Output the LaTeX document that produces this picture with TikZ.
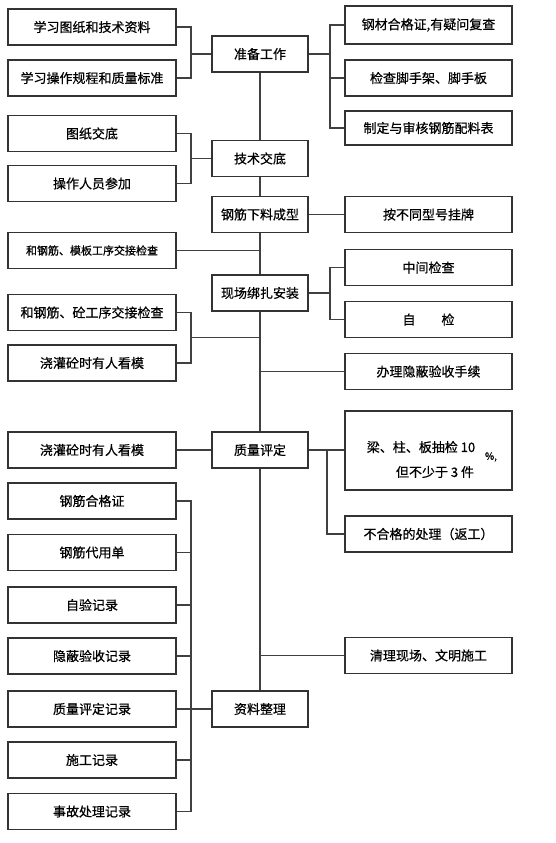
\documentclass[tikz,border=0pt]{standalone}
\usepackage{fontspec}
\setmainfont{Noto Sans CJK SC}[FakeBold=0.6]
\usetikzlibrary{calc}
\begin{document}
\begin{tikzpicture}[x=1pt,y=-1pt,
  box/.style={draw=black!80, line width=1.2pt, inner sep=0pt, minimum height=36pt, font=\fontsize{13}{15}\selectfont},
  lbox/.style={box, minimum width=168pt},
  cbox/.style={box, minimum width=96pt},
  rbox/.style={box, minimum width=167pt},
  conn/.style={draw=black!75, line width=1.2pt},
  plain/.style={inner sep=0pt, font=\fontsize{13}{15}\selectfont}
]
\useasboundingbox (0,0) rectangle (555,843);
% left column
\node[lbox] (L1) at (92,27) {学习图纸和技术资料};
\node[lbox] (L2) at (92,78) {学习操作规程和质量标准};
\node[lbox] (L3) at (92,133.5) {图纸交底};
\node[lbox] (L4) at (92,183.5) {操作人员参加};
\node[lbox, font=\fontsize{11}{13}\selectfont] (L5) at (92,250.5) {和钢筋、模板工序交接检查};
\node[lbox] (L6) at (92,312.5) {和钢筋、砼工序交接检查};
\node[lbox] (L7) at (92,363) {浇灌砼时有人看模};
\node[lbox] (L8) at (92,450) {浇灌砼时有人看模};
\node[lbox] (L9) at (92,501) {钢筋合格证};
\node[lbox] (L10) at (92,552.5) {钢筋代用单};
\node[lbox] (L11) at (92,605) {自验记录};
\node[lbox] (L12) at (92,656) {隐蔽验收记录};
\node[lbox] (L13) at (92,709) {质量评定记录};
\node[lbox] (L14) at (92,760) {施工记录};
\node[lbox] (L15) at (92,811.5) {事故处理记录};
% center column
\node[cbox] (C1) at (260,54) {准备工作};
\node[cbox] (C2) at (260,158.5) {技术交底};
\node[cbox] (C3) at (260,214.5) {钢筋下料成型};
\node[cbox] (C4) at (260,293) {现场绑扎安装};
\node[cbox] (C5) at (260,450) {质量评定};
\node[cbox] (C6) at (260,709) {资料整理};
% right column
\node[rbox, minimum height=38pt] (R1) at (428.5,25) {钢材合格证,有疑问复查};
\node[rbox] (R2) at (428.5,78) {检查脚手架、脚手板};
\node[rbox, minimum height=34pt] (R3) at (428.5,128) {制定与审核钢筋配料表};
\node[rbox] (R4) at (428.5,214.5) {按不同型号挂牌};
\node[rbox] (R5) at (428.5,267.5) {中间检查};
\node[rbox] (R6) at (428.5,319.5) {自\hspace{2em}检};
\node[rbox] (R7) at (428.5,371.5) {办理隐蔽验收手续};
\node[rbox, minimum height=79pt] (R8) at (428.5,450.5) {};
\node[plain] (R8a) at (421,447) {梁、柱、板抽检 10};
\node[plain] (R8b) at (435,472) {但不少于 3 件};
\node[plain, font=\fontsize{10}{12}\selectfont] (R8c) at (491,457) {\%,};
\node[rbox] (R9) at (428.5,534) {不合格的处理（返工）};
\node[rbox] (R10) at (428.5,655.5) {清理现场、文明施工};
% bracket x positions
\coordinate (bx) at (191,0);
\coordinate (rx) at (330,0);
\coordinate (qx) at (327,0);
% spine
\draw[conn] (C1.south) -- (C2.north);
\draw[conn] (C2.south) -- (C3.north);
\draw[conn] (C3.south) -- (C4.north);
\draw[conn] (C4.south) -- (C5.north);
\draw[conn] (C5.south) -- (C6.north);
% 准备工作
\draw[conn] (L1.east) -- (L1.east -| bx) -- (L2.east -| bx) -- (L2.east);
\draw[conn] (C1.west) -- (C1.west -| bx);
\draw[conn] (R1.west) -- (R1.west -| rx) -- (R3.west -| rx) -- (R3.west);
\draw[conn] (R2.west) -- (R2.west -| rx);
\draw[conn] (C1.east) -- (C1.east -| rx);
% 技术交底
\draw[conn] (L3.east) -- (L3.east -| bx) -- (L4.east -| bx) -- (L4.east);
\draw[conn] (C2.west) -- (C2.west -| bx);
% 钢筋下料成型
\draw[conn] (C3.east) -- (R4.west);
\draw[conn] (L5.east) -- (L5.east -| C3.south);
% 现场绑扎安装
\draw[conn] (R5.west) -- (R5.west -| rx) -- (R6.west -| rx) -- (R6.west);
\draw[conn] (C4.east) -- (C4.east -| rx);
\draw[conn] (L6.east) -- (L6.east -| bx) -- (L7.east -| bx) -- (L7.east);
\coordinate (m67) at ($(L6.east -| bx)!0.5!(L7.east -| bx)$);
\draw[conn] (m67) -- (m67 -| C4.south);
\draw[conn] (R7.west) -- (R7.west -| C4.south);
% 质量评定
\draw[conn] (L8.east) -- (C5.west);
\draw[conn] (C5.east) -- (C5.east -| R8.west);
\draw[conn] (R9.west) -- (R9.west -| qx) -- (C5.east -| qx);
\draw[conn] (R10.west) -- (R10.west -| C5.south);
% 资料整理
\draw[conn] (L9.east) -- (L9.east -| bx) -- (L15.east -| bx) -- (L15.east);
\foreach \n in {L10,L11,L12,L13,L14} \draw[conn] (\n.east) -- (\n.east -| bx);
\draw[conn] (C6.west) -- (C6.west -| bx);
\end{tikzpicture}
\end{document}
